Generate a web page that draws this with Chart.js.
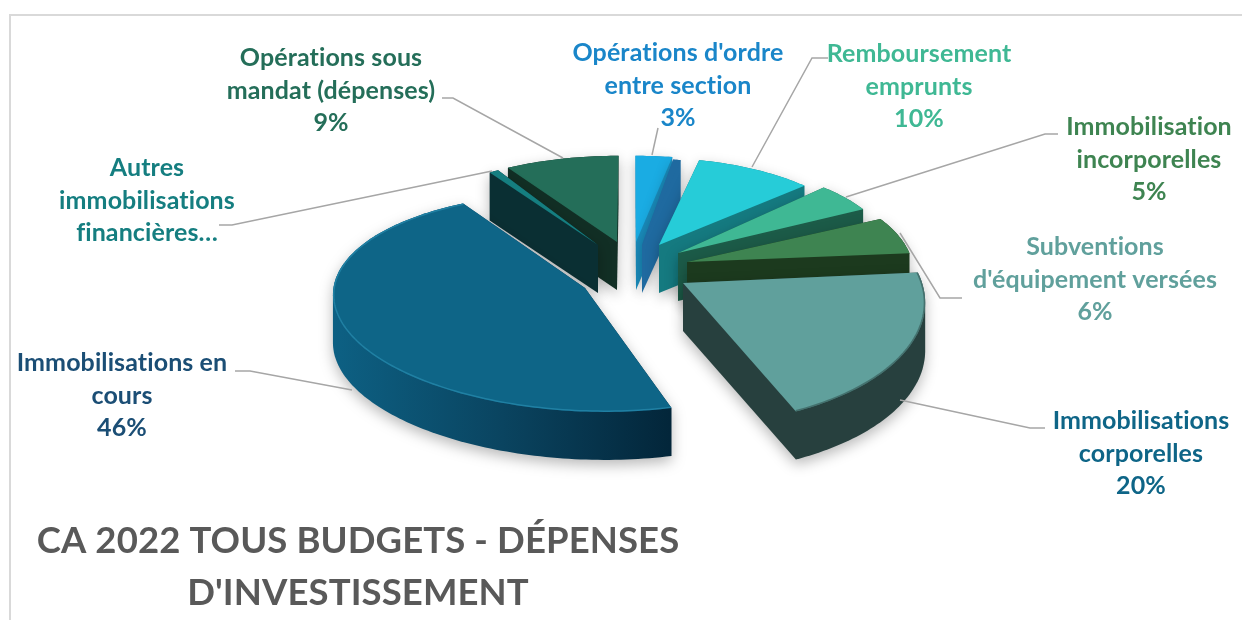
<!DOCTYPE html>
<html><head><meta charset="utf-8">
<style>html,body{margin:0;padding:0;background:#fff;overflow:hidden}canvas{display:block}</style>
<script src="https://cdn.jsdelivr.net/npm/chart.js@4"></script>
</head><body><canvas id="c" width="1242" height="620"></canvas>
<script>
const categories=["Opérations d'ordre entre section","(sans libellé)","Remboursement emprunts","Immobilisation incorporelles","Subventions d'équipement versées","Immobilisations corporelles","Immobilisations en cours","Autres immobilisations financières…","Opérations sous mandat (dépenses)"];
const values=[3,0.7,10,5,6,20,46,0.8,9];
const topColors=["#1aace3","#1f6aa0","#26ccd8","#3fb894","#3e8451","#60a09c","#0e6587","#157e80","#246e59"];
const wallColors=["#1a8cbc","#1f6aa0","#157a80","#1c5b48","#1c3a1e","#27403e","#0a4a68","#0a2f33","#122f25"];
const apexes=[[636,242],[642,245],[659,245],[678,253],[687,262],[683,283],[585,288],[598,245],[617,242]];
const sliceWarp=[[0.97,0,0,1],[0.85,0,0,1],[0.92,0,0,1],[0.93,0,-0.08,1],[0.96,0,-0.06,1],[0.99,0.04,-0.07,1.12],[1.04,-0.02,0.11,0.98],[0.93,0,0,1],[1,0,0,1]];
const labelLines=[["Opérations d'ordre","entre section","3%"],["Remboursement","emprunts","10%"],["Immobilisation","incorporelles","5%"],["Subventions","d'équipement versées","6%"],["Immobilisations","corporelles","20%"],["Immobilisations en","cours","46%"],["Autres","immobilisations","financières…"],["Opérations sous","mandat (dépenses)","9%"]];
const labelColors=["#1a86c9","#3fb894","#3e8451","#60a09c","#0e6587","#1b4e75","#157e80","#246e59"];
const labelPos=[[678,53],[919,54],[1149,127],[1095,247],[1141,421],[122,363],[147,168],[331,58]];
const leaders=[[[658,128],[652,155]],[[828,58],[812,58],[752,167]],[[1058,134],[1045,134],[846,197]],[[900,233],[940,298],[962,298]],[[900,400],[1030,428],[1045,428]],[[235,371],[250,371],[352,390]],[[219,225],[232,225],[492,171]],[[442,98],[453,98],[563,158]]];
const titleLines=["CA 2022 TOUS BUDGETS - DÉPENSES","D'INVESTISSEMENT"];
const VIEW={cx:631,cy:265,A:236,B:103,q:0.13,depth:48};
const FONT="Lato, Carlito, sans-serif";
function project(X,Y){const W=1-VIEW.q*Y;return [VIEW.cx+VIEW.A*X/W,VIEW.cy+VIEW.B*Y/W];}
function unproject(sx,sy){const s=sy-VIEW.cy;const Y=s/(VIEW.B+VIEW.q*s);const W=1-VIEW.q*Y;return [(sx-VIEW.cx)*W/VIEW.A,Y];}
function trace(ctx,pts,dy){ctx.beginPath();pts.forEach((p,i)=>i?ctx.lineTo(p[0],p[1]+dy):ctx.moveTo(p[0],p[1]+dy));ctx.closePath();}
function hull(points){
  const p=points.slice().sort((a,b)=>a[0]-b[0]||a[1]-b[1]);
  const cross=(o,a,b)=>(a[0]-o[0])*(b[1]-o[1])-(a[1]-o[1])*(b[0]-o[0]);
  const lo=[],up=[];
  for(const q of p){while(lo.length>1&&cross(lo[lo.length-2],lo[lo.length-1],q)<=0)lo.pop();lo.push(q);}
  for(const q of p.slice().reverse()){while(up.length>1&&cross(up[up.length-2],up[up.length-1],q)<=0)up.pop();up.push(q);}
  lo.pop();up.pop();return lo.concat(up);
}
const pie3d={id:'pie3d',
 beforeDatasetsDraw(chart){
  const ctx=chart.ctx;
  const arcs=chart.getDatasetMeta(0).data;
  const slices=arcs.map((arc,i)=>{
    const o=unproject(apexes[i][0],apexes[i][1]);
    const w=sliceWarp[i];
    const pts=[project(o[0],o[1])],rim=[];
    const n=Math.max(4,Math.ceil((arc.endAngle-arc.startAngle)/0.02));
    for(let k=0;k<=n;k++){const a=arc.startAngle+(arc.endAngle-arc.startAngle)*k/n;
      const c=Math.cos(a),sn=Math.sin(a);
      const p=project(o[0]+w[0]*c+w[1]*sn,o[1]+w[2]*c+w[3]*sn);pts.push(p);rim.push(p);}
    return {i,pts,rim,mid:Math.sin((arc.startAngle+arc.endAngle)/2)};
  }).sort((a,b)=>a.mid-b.mid);
  slices.forEach(s=>{
    const body=hull(s.pts.concat(s.pts.map(p=>[p[0],p[1]+VIEW.depth])));
    let wall=wallColors[s.i];
    if(s.i===6){const g=ctx.createLinearGradient(335,0,670,0);g.addColorStop(0,'#0d6083');g.addColorStop(0.5,'#0a4460');g.addColorStop(1,'#03263a');wall=g;}
    ctx.save();
    ctx.shadowColor='rgba(0,0,0,0.28)';ctx.shadowBlur=14;ctx.shadowOffsetY=5;
    trace(ctx,body,0);ctx.fillStyle=wall;ctx.fill();
    ctx.restore();
    trace(ctx,s.pts,0);ctx.fillStyle=topColors[s.i];ctx.fill();
    if(s.i===6||s.i===5){
      ctx.save();trace(ctx,s.pts,0);ctx.clip();
      ctx.beginPath();s.rim.forEach((p,k)=>k?ctx.lineTo(p[0],p[1]):ctx.moveTo(p[0],p[1]));
      ctx.strokeStyle=s.i===6?'rgba(40,140,175,0.7)':'rgba(45,75,72,0.55)';ctx.lineWidth=3;ctx.stroke();
      ctx.restore();
    }
  });
  return false;
 },
 afterDraw(chart){
  const ctx=chart.ctx;ctx.save();
  ctx.strokeStyle='#d9d9d9';ctx.lineWidth=2;ctx.strokeRect(10,15,1400,800);
  ctx.strokeStyle='#a6a6a6';ctx.lineWidth=1.5;
  leaders.forEach(l=>{ctx.beginPath();l.forEach((p,i)=>i?ctx.lineTo(p[0],p[1]):ctx.moveTo(p[0],p[1]));ctx.stroke();});
  ctx.textAlign='center';ctx.textBaseline='middle';ctx.font='bold 25px '+FONT;ctx.letterSpacing='0.1px';
  labelLines.forEach((ls,i)=>{ctx.fillStyle=labelColors[i];ls.forEach((t,k)=>ctx.fillText(t,labelPos[i][0],labelPos[i][1]+k*32.5));});
  ctx.font='bold 36.5px '+FONT;ctx.fillStyle='#595959';
  titleLines.forEach((t,k)=>ctx.fillText(t,358,541+k*52));
  ctx.restore();
 }};
new Chart(document.getElementById('c'),{type:'pie',
 data:{labels:categories,datasets:[{data:values,backgroundColor:topColors,borderWidth:0}]},
 options:{responsive:false,animation:false,plugins:{legend:{display:false},tooltip:{enabled:false}}},
 plugins:[pie3d]});
</script></body></html>
